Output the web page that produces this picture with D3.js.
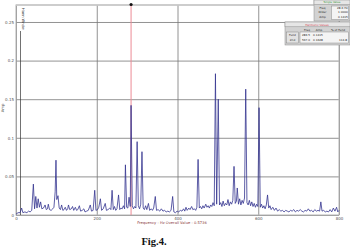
<!DOCTYPE html>
<html>
<head>
<meta charset="utf-8">
<script src="https://cdn.jsdelivr.net/npm/d3@7"></script>
<style>
  body { margin: 0; background: #fff; }
  svg { display: block; }
  .tick text { font-family: "DejaVu Sans", sans-serif; font-size: 4px; fill: #555; }
</style>
</head>
<body>
<div id="chart"></div>
<script>
var chartWidth = 350;
var chartHeight = 250;

// frequency axis (Hz) and amplitude axis
var xTicks = [0, 200, 400, 600, 800];
var yTicks = [0, 0.05, 0.1, 0.15, 0.2, 0.25];
var yTickLabels = ["0", "0.05", "0.1", "0.15", "0.2", "0.25"];

// spectrum trace, [Hz, amplitude]
var spectrum = [
    [0, 0.001], [5, 0.003], [10, 0.003], [14, 0.009], [17, 0.003], [22, 0.004],
    [27, 0.003], [31, 0.005], [35, 0.004], [39, 0.006], [43, 0.040], [46, 0.008],
    [49, 0.024], [52, 0.009], [55, 0.021], [58, 0.010], [61, 0.017], [64, 0.008],
    [68, 0.009], [72, 0.013], [75, 0.007], [78, 0.008], [80, 0.014], [83, 0.007],
    [87, 0.006], [91, 0.008], [94, 0.010], [97, 0.030], [99, 0.071], [101, 0.020],
    [104, 0.025], [107, 0.009], [110, 0.007], [113, 0.013], [116, 0.006], [119, 0.007],
    [122, 0.010], [125, 0.006], [128, 0.008], [130, 0.013], [133, 0.007], [137, 0.008],
    [140, 0.011], [143, 0.006], [147, 0.010], [150, 0.006], [153, 0.007], [157, 0.012],
    [160, 0.005], [164, 0.006], [168, 0.008], [171, 0.004], [175, 0.005], [179, 0.006],
    [184, 0.013], [187, 0.005], [191, 0.006], [195, 0.032], [198, 0.006], [202, 0.007],
    [205, 0.010], [209, 0.021], [212, 0.006], [216, 0.008], [221, 0.015], [224, 0.006],
    [228, 0.007], [232, 0.009], [235, 0.007], [238, 0.032], [241, 0.007], [244, 0.011],
    [247, 0.006], [250, 0.008], [254, 0.026], [257, 0.007], [260, 0.009], [263, 0.008],
    [266, 0.012], [269, 0.008], [271, 0.065], [274, 0.010], [277, 0.009], [280, 0.023],
    [283, 0.011], [285, 0.142], [288, 0.012], [291, 0.008], [294, 0.011], [297, 0.009],
    [300, 0.095], [303, 0.012], [306, 0.008], [309, 0.014], [312, 0.082], [315, 0.009],
    [318, 0.007], [321, 0.012], [324, 0.007], [328, 0.015], [331, 0.006], [335, 0.008],
    [338, 0.006], [341, 0.009], [345, 0.024], [348, 0.006], [352, 0.007], [356, 0.005],
    [360, 0.008], [364, 0.005], [368, 0.006], [372, 0.004], [376, 0.005], [380, 0.004],
    [384, 0.006], [388, 0.024], [391, 0.004], [395, 0.003], [399, 0.005], [403, 0.004],
    [407, 0.006], [411, 0.005], [415, 0.008], [418, 0.005], [421, 0.010], [424, 0.006],
    [428, 0.009], [431, 0.007], [435, 0.011], [438, 0.007], [442, 0.008], [445, 0.006],
    [448, 0.010], [451, 0.072], [454, 0.009], [457, 0.011], [460, 0.008], [463, 0.012],
    [466, 0.009], [470, 0.014], [473, 0.010], [476, 0.012], [479, 0.009], [482, 0.013],
    [485, 0.011], [488, 0.016], [491, 0.012], [494, 0.183], [497, 0.014], [501, 0.150],
    [504, 0.013], [507, 0.016], [510, 0.011], [513, 0.018], [516, 0.012], [519, 0.015],
    [522, 0.013], [525, 0.020], [528, 0.012], [531, 0.017], [534, 0.014], [537, 0.019],
    [540, 0.063], [543, 0.015], [546, 0.018], [548, 0.035], [551, 0.014], [554, 0.021],
    [557, 0.013], [560, 0.019], [563, 0.015], [566, 0.022], [569, 0.163], [572, 0.016],
    [575, 0.013], [578, 0.019], [581, 0.012], [584, 0.017], [587, 0.011], [590, 0.015],
    [593, 0.010], [596, 0.014], [599, 0.011], [602, 0.139], [605, 0.010], [608, 0.014],
    [611, 0.009], [614, 0.012], [617, 0.008], [620, 0.013], [623, 0.026], [626, 0.009],
    [629, 0.012], [632, 0.007], [636, 0.010], [640, 0.006], [644, 0.009], [648, 0.005],
    [652, 0.007], [656, 0.005], [660, 0.006], [664, 0.004], [668, 0.006], [672, 0.005],
    [676, 0.004], [680, 0.006], [684, 0.005], [688, 0.007], [692, 0.004], [696, 0.006],
    [700, 0.005], [704, 0.007], [708, 0.005], [712, 0.004], [716, 0.006], [720, 0.005],
    [724, 0.008], [728, 0.005], [732, 0.006], [736, 0.004], [740, 0.007], [744, 0.005],
    [748, 0.006], [752, 0.005], [755, 0.017], [758, 0.005], [762, 0.006], [766, 0.004],
    [770, 0.005], [774, 0.004], [778, 0.007], [782, 0.004], [786, 0.009], [790, 0.005],
    [794, 0.010], [797, 0.004], [800, 0.006]
];

// cursor on the fundamental
var cursorFreq = 285;

// read-out panels
var singleRows = ["Freq", "Order", "Amp"];
var singleVals = ["28.6 Hz", "1.0000", "0.1415"];
var harmCols = ["Freq", "Amp", "% of Fund"];
var harmRows = ["Fund", "2nd"];
var harmVals = [["283.5", "0.1415", ""], ["567.0", "0.1628", "114.8"]];

var margin = {top: 5, right: 11, bottom: 35, left: 16};
var width = chartWidth - margin.left - margin.right;
var height = chartHeight - margin.top - margin.bottom;

var svg = d3.select("#chart")
    .append("svg")
    .attr("width", chartWidth)
    .attr("height", chartHeight);

var x = d3.scaleLinear().domain([0, 800]).range([0, width]);
var y = d3.scaleLinear().domain([0, 0.272]).range([height, 0]);

var g = svg.append("g")
    .attr("transform", "translate(" + margin.left + "," + margin.top + ")");

// grid via axes
var yAxis = g.append("g")
    .attr("class", "axis axis--y")
    .call(d3.axisLeft(y)
        .tickValues(yTicks)
        .tickSize(-width)
        .tickPadding(2)
        .tickFormat(function(d, i) { return yTickLabels[i]; }));
yAxis.select(".domain").remove();
yAxis.selectAll("line").attr("stroke", "#777").attr("stroke-width", 0.8);

var xAxis = g.append("g")
    .attr("class", "axis axis--x")
    .attr("transform", "translate(0," + height + ")")
    .call(d3.axisBottom(x)
        .tickValues(xTicks)
        .tickSize(-height)
        .tickPadding(2.5));
xAxis.select(".domain").remove();
xAxis.selectAll("line").attr("stroke", "#777").attr("stroke-width", 0.8);

// frame
g.append("rect")
    .attr("x", 0)
    .attr("y", 0)
    .attr("width", width)
    .attr("height", height)
    .attr("fill", "none")
    .attr("stroke", "#b4b4b4")
    .attr("stroke-width", 1);
g.append("line")
    .attr("x1", 0).attr("x2", width)
    .attr("y1", 0).attr("y2", 0)
    .attr("stroke", "#c8c8c8")
    .attr("stroke-width", 1.6);

// window marker at left
g.append("line")
    .attr("x1", 4.5).attr("x2", 4.5)
    .attr("y1", 26).attr("y2", height)
    .attr("stroke", "#333")
    .attr("stroke-width", 0.7);
g.append("text")
    .attr("transform", "translate(6,3) rotate(90)")
    .attr("font-family", "DejaVu Sans, sans-serif")
    .attr("font-size", 3.6)
    .attr("fill", "#333")
    .text("Hann Wndw");

// cursor
g.append("line")
    .attr("x1", x(cursorFreq)).attr("x2", x(cursorFreq))
    .attr("y1", 0).attr("y2", height)
    .attr("stroke", "#ec8a96")
    .attr("stroke-width", 1);

// spectrum
var line = d3.line()
    .x(function(d) { return x(d[0]); })
    .y(function(d) { return y(d[1]); });

g.append("path")
    .datum(spectrum)
    .attr("fill", "none")
    .attr("stroke", "#34348f")
    .attr("stroke-width", 0.8)
    .attr("stroke-linejoin", "miter")
    .attr("d", line);

g.append("circle")
    .attr("cx", x(cursorFreq))
    .attr("cy", -0.5)
    .attr("r", 1.6)
    .attr("fill", "#111");

// y title
svg.append("text")
    .attr("transform", "translate(4,108) rotate(-90)")
    .attr("text-anchor", "middle")
    .attr("font-family", "DejaVu Sans, sans-serif")
    .attr("font-size", 3.8)
    .attr("fill", "#555")
    .text("Amp");

// x caption
svg.append("text")
    .attr("x", 172)
    .attr("y", 224)
    .attr("text-anchor", "middle")
    .attr("font-family", "DejaVu Sans, sans-serif")
    .attr("font-size", 3.7)
    .attr("fill", "#8a3a3a")
    .text("Frequency - Hz     Overall Value - 0.5736");

var panelFont = 2.8;

// Single Value panel
var sp = svg.append("g").attr("transform", "translate(314,0)");
sp.append("rect").attr("x", 0).attr("y", 0).attr("width", 36).attr("height", 21)
    .attr("fill", "#d2d2d2").attr("stroke", "#8c8c8c").attr("stroke-width", 0.5);
sp.append("rect").attr("x", 0).attr("y", 0).attr("width", 36).attr("height", 4.5)
    .attr("fill", "#e6e6e6").attr("stroke", "#8c8c8c").attr("stroke-width", 0.5);
sp.append("text").attr("x", 18).attr("y", 3.4).attr("text-anchor", "middle")
    .attr("font-family", "DejaVu Sans, sans-serif").attr("font-size", panelFont)
    .attr("fill", "#3a9a3a").text("Single Value");
sp.append("rect").attr("x", 17.5).attr("y", 6).attr("width", 17).attr("height", 13.5)
    .attr("fill", "#f4f4f4").attr("stroke", "#777").attr("stroke-width", 0.4);
sp.selectAll(".lab").data(singleRows).enter().append("text")
    .attr("x", 8.5).attr("y", function(d, i) { return 9 + i * 4.4; })
    .attr("text-anchor", "middle")
    .attr("font-family", "DejaVu Sans, sans-serif").attr("font-size", panelFont)
    .attr("fill", "#222").text(function(d) { return d; });
sp.selectAll(".val").data(singleVals).enter().append("text")
    .attr("x", 33.8).attr("y", function(d, i) { return 9 + i * 4.4; })
    .attr("text-anchor", "end")
    .attr("font-family", "DejaVu Sans, sans-serif").attr("font-size", panelFont)
    .attr("fill", "#222").text(function(d) { return d; });

// Harmonic Values panel
var hp = svg.append("g").attr("transform", "translate(285,22)");
hp.append("rect").attr("x", 0).attr("y", 0).attr("width", 65).attr("height", 23)
    .attr("fill", "#d2d2d2").attr("stroke", "#8c8c8c").attr("stroke-width", 0.5);
hp.append("rect").attr("x", 0).attr("y", 0).attr("width", 65).attr("height", 4.8)
    .attr("fill", "#e6e6e6").attr("stroke", "#8c8c8c").attr("stroke-width", 0.5);
hp.append("text").attr("x", 32).attr("y", 3.6).attr("text-anchor", "middle")
    .attr("font-family", "DejaVu Sans, sans-serif").attr("font-size", panelFont)
    .attr("fill", "#d23c4c").text("Harmonic Values");
hp.append("rect").attr("x", 1.5).attr("y", 10).attr("width", 12).attr("height", 11)
    .attr("fill", "#e2e2e2").attr("stroke", "#777").attr("stroke-width", 0.4);
hp.append("rect").attr("x", 15).attr("y", 10).attr("width", 48.5).attr("height", 11)
    .attr("fill", "#f4f4f4").attr("stroke", "#777").attr("stroke-width", 0.4);
var colX = [22, 34, 53];
hp.selectAll(".col").data(harmCols).enter().append("text")
    .attr("x", function(d, i) { return colX[i]; }).attr("y", 8.5)
    .attr("text-anchor", "middle")
    .attr("font-family", "DejaVu Sans, sans-serif").attr("font-size", panelFont)
    .attr("fill", "#222").text(function(d) { return d; });
hp.selectAll(".row").data(harmRows).enter().append("text")
    .attr("x", 7.5).attr("y", function(d, i) { return 14 + i * 5; })
    .attr("text-anchor", "middle")
    .attr("font-family", "DejaVu Sans, sans-serif").attr("font-size", panelFont)
    .attr("fill", "#222").text(function(d) { return d; });
harmVals.forEach(function(row, r) {
    hp.selectAll(".v" + r).data(row).enter().append("text")
        .attr("x", function(d, i) { return [21, 33, 58][i]; })
        .attr("y", 14 + r * 5)
        .attr("text-anchor", "middle")
        .attr("font-family", "DejaVu Sans, sans-serif").attr("font-size", panelFont)
        .attr("fill", "#222").text(function(d) { return d; });
});

// figure caption
svg.append("text")
    .attr("x", 154)
    .attr("y", 245)
    .attr("text-anchor", "middle")
    .attr("font-family", "Liberation Serif, serif")
    .attr("font-size", 10.5)
    .attr("font-weight", "bold")
    .attr("fill", "#111")
    .text("Fig.4.")
</script>
</body>
</html>
